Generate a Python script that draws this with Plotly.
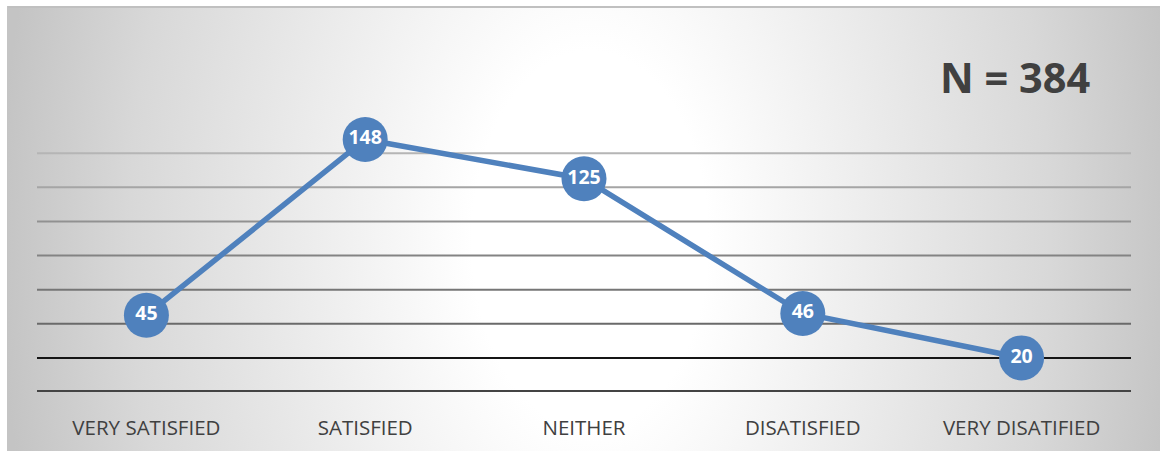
import base64
import plotly.graph_objects as go

categories = ["VERY SATISFIED", "SATISFIED", "NEITHER", "DISATISFIED", "VERY DISATIFIED"]
values = [45, 148, 125, 46, 20]
grid_values = [0, 20, 40, 60, 80, 100, 120, 140]
grid_colors = ["#444444", "#151515", "#6a6a6a", "#767676", "#838383", "#919191", "#a5a5a5", "#b5b5b5"]
grid_widths = [4, 2, 2, 2, 2, 2, 2, 2]
annotation_text = "N = 384"

W, H = 1160, 451
ml, mr, mt, mb = 37, 29, 119, 59
pw, ph = W - ml - mr, H - mt - mb

# background panel (gradient) spanning x 7..1160, y 6..451
bx0, by0, bx1, by1 = 7, 6, 1160, 451
bw, bh = bx1 - bx0, by1 - by0
cx, cy = 590 - bx0, 240 - by0
svg = f'''<svg xmlns="http://www.w3.org/2000/svg" width="{bw}" height="{bh}" viewBox="0 0 {bw} {bh}" preserveAspectRatio="none">
<defs>
<radialGradient id="g" gradientUnits="userSpaceOnUse" cx="{cx}" cy="{cy}" r="590" gradientTransform="translate({cx},{cy}) scale(1,1.6) translate({-cx},{-cy})">
<stop offset="0" stop-color="#ffffff"/>
<stop offset="0.2" stop-color="#ffffff"/>
<stop offset="0.45" stop-color="#eeeeee"/>
<stop offset="0.78" stop-color="#d8d8d8"/>
<stop offset="1" stop-color="#c4c4c4"/>
</radialGradient>
</defs>
<rect x="0" y="0" width="{bw}" height="{bh}" fill="url(#g)"/>
<rect x="0" y="0" width="{bw}" height="2" fill="#c0c0c0"/>
<rect x="0" y="0" width="1" height="{bh}" fill="#c4c4c4"/>
</svg>'''
src = "data:image/svg+xml;base64," + base64.b64encode(svg.encode()).decode()

def px_to_paper_x(x):
    return (x - ml) / pw

def px_to_paper_y(y):
    return (H - mb - y) / ph

fig = go.Figure()
fig.add_trace(go.Scatter(
    x=categories, y=values,
    mode="lines+markers+text",
    line=dict(color="#4f81bd", width=5.5),
    marker=dict(size=45, color="#4f81bd"),
    text=[str(v) for v in values],
    textposition="middle center",
    textfont=dict(family="Open Sans", size=19.5, color="white", weight="bold"),
    hoverinfo="skip",
    cliponaxis=False,
))

shapes = []
for v, c, w in zip(grid_values, grid_colors, grid_widths):
    shapes.append(dict(type="line", xref="paper", yref="y", x0=0, x1=1, y0=v, y1=v,
                       line=dict(color=c, width=w), layer="below"))

fig.update_layout(
    width=W, height=H,
    margin=dict(l=ml, r=mr, t=mt, b=mb, autoexpand=False),
    paper_bgcolor="white",
    plot_bgcolor="rgba(0,0,0,0)",
    showlegend=False,
    images=[dict(source=src, xref="paper", yref="paper",
                 x=px_to_paper_x(bx0), y=px_to_paper_y(by0),
                 sizex=(bx1 - bx0) / pw, sizey=(by1 - by0) / ph,
                 xanchor="left", yanchor="top", sizing="stretch", layer="below")],
    shapes=shapes,
    xaxis=dict(type="category", range=[-0.5, 4.5], showgrid=False, zeroline=False,
               showline=False, ticks="", ticklabelstandoff=21, automargin=False,
               tickfont=dict(family="Open Sans", size=20.5, color="#404040")),
    yaxis=dict(range=[0, 160], showgrid=False, zeroline=False, showline=False,
               showticklabels=False, ticks="", automargin=False),
    annotations=[dict(text=annotation_text, xref="paper", yref="paper",
                      x=px_to_paper_x(1015), y=px_to_paper_y(77),
                      xanchor="center", yanchor="middle", showarrow=False,
                      font=dict(family="Open Sans", size=41.5, color="#404040", weight="bold"))],
)

fig.write_html("out.html")
